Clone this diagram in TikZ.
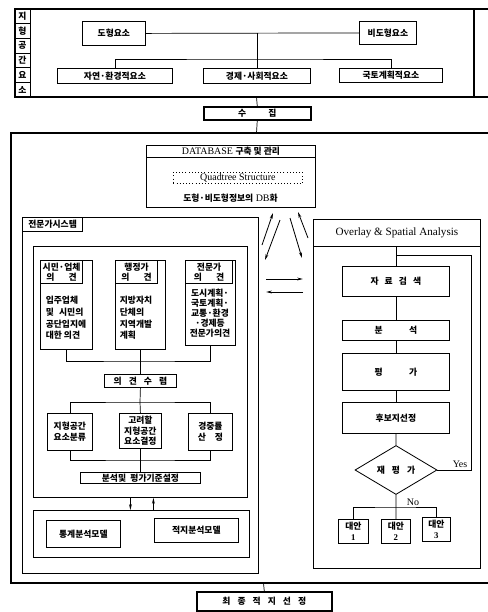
\documentclass[tikz,border=0pt]{standalone}
\usepackage{fontspec}
\setmainfont{Liberation Serif}
\newfontfamily\kr{Noto Sans CJK KR}
\usetikzlibrary{arrows.meta, positioning, shapes.geometric, calc}

\begin{document}
\begin{tikzpicture}[
    x=0.03cm,
    y=-0.03cm,
    caixa/.style={
        draw,
        line width=0.7pt,
        inner sep=1pt,
        align=center,
        anchor=north west,
        font=\kr\bfseries\fontsize{7.5}{9}\selectfont
    },
    caixagrossa/.style={
        caixa,
        line width=1.3pt
    },
    cabecalho/.style={
        caixa,
        line width=1pt
    },
    texto/.style={
        inner sep=0pt,
        align=center,
        font=\kr\bfseries\fontsize{7.5}{10}\selectfont
    },
    latim/.style={
        inner sep=0pt,
        font=\fontsize{8.5}{9}\selectfont
    },
    moldura/.style={line width=1.3pt},
    ligacao/.style={line width=0.6pt},
    seta/.style={line width=0.7pt, -{Stealth[length=5pt, width=2.4pt]}}
]

\useasboundingbox (0,0) rectangle (488,612);

% ---------------- Elementos ----------------

\draw[moldura] (488,9) -- (15,9) -- (15,97) -- (488,97);
\draw[moldura] (474,9) -- (474,97);
\draw[ligacao] (30,9) -- (30,97);

\foreach \letra [count=\i] in {지,형,공,간,요,소}
{
    \node[texto] (coluna\i) at (22.5,{9+14.67*\i-7.33}) {\letra};
}
\foreach \i in {1,...,5}
{
    \draw[line width=0.4pt] (15,{9+14.67*\i}) -- (30,{9+14.67*\i});
}

\node[
    caixa,
    minimum width=1.89cm,
    minimum height=0.72cm
] (dohyeong) at (82,21)
{도형요소};

\node[
    caixa,
    minimum width=1.71cm,
    minimum height=0.69cm
] (bidohyeong) at (359,21)
{비도형요소};

\node[
    caixa,
    minimum width=3.45cm,
    minimum height=0.45cm
] (ziyeon) at (57,68)
{자연·환경적요소};

\node[
    caixa,
    minimum width=3.21cm,
    minimum height=0.45cm
] (gyeongje) at (203,68)
{경제·사회적요소};

\node[
    caixa,
    minimum width=3.09cm,
    minimum height=0.42cm
] (gukto) at (339,68)
{국토계획적요소};

\coordinate (ramo) at (256.5,59);

\draw[ligacao] (dohyeong.east) -- (bidohyeong.west);
\draw[ligacao] (gyeongje.north) -- (gyeongje.north |- dohyeong.east);
\draw[ligacao] (ziyeon.north) |- (ramo) -| (gukto.north);

% ---------------- Coleta ----------------

\node[
    caixagrossa,
    minimum width=3.21cm,
    minimum height=0.39cm
] (sujip) at (203,106)
{수\hspace{2.5em}집};

\coordinate (topo) at (256.5,97);
\coordinate (quadro) at (256.5,133);

\draw[ligacao] (topo) -- (sujip.north);
\draw[ligacao] (sujip.south) -- (quadro);

\draw[moldura] (488,133) -- (11,133) -- (11,583) -- (488,583);

% ---------------- Database ----------------

\node[
    caixa,
    minimum width=5.07cm,
    minimum height=1.86cm
] (db) at (146,145)
{};

\node[
    caixa,
    minimum width=5.07cm,
    minimum height=0.36cm,
    font=\fontsize{8.5}{9}\selectfont
] (dbtitulo) at (146,145)
{DATABASE {\kr\bfseries\fontsize{7.5}{9}\selectfont 구축 및 관리}};

\node[
    caixa,
    dotted,
    minimum width=3.87cm,
    minimum height=0.33cm,
    font=\fontsize{8.5}{9}\selectfont
] (quadtree) at (173,172)
{Quadtree Structure};

\node[latim] (dbtexto) at (230.5,198)
{{\kr\bfseries\fontsize{7.5}{9}\selectfont 도형·비도형정보의} DB{\kr\bfseries\fontsize{7.5}{9}\selectfont 화}};

% ---------------- Setas ----------------

\coordinate (s1a) at (262,245);
\coordinate (s1b) at (273,213);
\coordinate (s2a) at (280,220);
\coordinate (s2b) at (265,260);
\coordinate (s3a) at (290,218);
\coordinate (s3b) at (302,258);
\coordinate (s4a) at (308,238);
\coordinate (s4b) at (298,212);
\coordinate (s5a) at (266,279);
\coordinate (s5b) at (303,279);
\coordinate (s6a) at (303,292);
\coordinate (s6b) at (266,292);

\draw[seta] (s1a) -- (s1b);
\draw[seta] (s2a) -- (s2b);
\draw[seta] (s3a) -- (s3b);
\draw[seta] (s4a) -- (s4b);
\draw[seta] (s5a) -- (s5b);
\draw[seta] (s6a) -- (s6b);

% ---------------- Sistema especialista ----------------

\node[
    caixa,
    line width=1pt,
    minimum width=7.08cm,
    minimum height=10.68cm
] (especialista) at (22,217)
{};

\node[
    cabecalho,
    minimum width=1.8cm,
    minimum height=0.42cm
] (espaba) at (22,217)
{전문가시스템};

\node[
    caixa,
    minimum width=6.42cm,
    minimum height=7.53cm
] (opiniao) at (33,246)
{};

\node[
    caixa,
    minimum width=1.56cm,
    minimum height=2.67cm
] (op1) at (40,260)
{};

\node[
    cabecalho,
    minimum width=1.26cm,
    minimum height=0.69cm
] (op1titulo) at (40,260)
{시민·업체\\의\hspace{1.6em}견};

\node[texto, align=left] (op1texto) at (66,318)
{입주업체\\및\hspace{0.6em}시민의\\공단입지에\\대한 의견};

\node[
    caixa,
    minimum width=1.5cm,
    minimum height=2.67cm
] (op2) at (115,260)
{};

\node[
    cabecalho,
    minimum width=1.26cm,
    minimum height=0.69cm
] (op2titulo) at (115,260)
{행정가\\의\hspace{1.6em}견};

\node[texto, align=left] (op2texto) at (136,318)
{지방자치\\단체의\\지역개발\\계획};

\node[
    caixa,
    minimum width=1.5cm,
    minimum height=2.55cm
] (op3) at (185,260)
{};

\node[
    cabecalho,
    minimum width=1.41cm,
    minimum height=0.69cm
] (op3titulo) at (185,260)
{전문가\\의\hspace{1.6em}견};

\node[texto, font=\kr\bfseries\fontsize{7.5}{8.6}\selectfont] (op3texto) at (210,313)
{도시계획·\\국토계획·\\교통·환경\\·경제등\\전문가의견};

\node[
    caixa,
    minimum width=2.16cm,
    minimum height=0.39cm
] (suryeom) at (104,374)
{의\hspace{0.8em}견\hspace{0.8em}수\hspace{0.8em}렴};

\coordinate (barra1) at (140,361);
\draw[ligacao] (op1.south) |- (barra1) -| (op3.south);
\draw[ligacao] (op2.south) -- (suryeom.north);

\node[
    caixa,
    minimum width=1.35cm,
    minimum height=1.11cm
] (cr1) at (47,413)
{지형공간\\요소분류};

\node[
    caixa,
    minimum width=1.26cm,
    minimum height=1.05cm
] (cr2) at (119,413)
{고려할\\지형공간\\요소결정};

\node[
    caixa,
    minimum width=1.32cm,
    minimum height=1.11cm
] (cr3) at (188,413)
{경중률\\산\hspace{1em}정};

\coordinate (barra2) at (140,402);
\draw[ligacao] (suryeom.south) -- (barra2);
\draw[ligacao] (cr1.north) |- (barra2) -| (cr3.north);
\draw[ligacao] (barra2) -- (cr2.north);

\node[
    caixa,
    minimum width=3.6cm,
    minimum height=0.33cm
] (criterio) at (80,472)
{분석및\hspace{0.5em}평가기준설정};

\coordinate (barra3) at (140,460);
\draw[ligacao] (cr1.south) |- (barra3) -| (cr3.south);
\draw[ligacao] (cr2.south) -- (criterio.north);

\node[
    caixa,
    minimum width=6.48cm,
    minimum height=1.41cm
] (modelos) at (33,510)
{};

\node[
    caixa,
    minimum width=2.22cm,
    minimum height=0.81cm
] (estat) at (46,520)
{통계분석모델};

\node[
    caixa,
    minimum width=2.52cm,
    minimum height=0.72cm
] (local) at (154,518)
{적지분석모델};

\draw[seta] ([xshift=-0.3cm]opiniao.south) -- ([xshift=-0.3cm]opiniao.south |- modelos.north);
\draw[seta] ([xshift=0.39cm]opiniao.south |- modelos.north) -- ([xshift=0.39cm]opiniao.south);

% ---------------- Overlay ----------------

\node[
    caixa,
    minimum width=5.01cm,
    minimum height=10.47cm
] (overlay) at (313,219)
{};

\node[
    caixa,
    minimum width=5.01cm,
    minimum height=0.81cm,
    font=\fontsize{9.5}{10}\selectfont
] (ovtitulo) at (313,219)
{Overlay \& Spatial Analysis};

\node[
    caixa,
    minimum width=3.21cm,
    minimum height=0.9cm
] (busca) at (342,266)
{자\hspace{0.7em}료\hspace{0.7em}검\hspace{0.7em}색};

\node[
    caixa,
    minimum width=3.21cm,
    minimum height=0.6cm
] (analise) at (342,320)
{분\hspace{3em}석};

\node[
    caixa,
    minimum width=3.21cm,
    minimum height=1.11cm
] (avaliacao) at (342,353)
{평\hspace{3em}가};

\node[
    caixa,
    minimum width=3.21cm,
    minimum height=0.93cm
] (candidato) at (342,402)
{후보지선정};

\node[
    caixa,
    diamond,
    anchor=center,
    inner sep=0pt,
    minimum width=2.46cm,
    minimum height=1.47cm
] (reaval) at (396,470)
{재\hspace{0.8em}평\hspace{0.8em}가};

\node[
    caixa,
    minimum width=0.9cm,
    minimum height=0.72cm
] (alt1) at (338,519)
{대안\\{\rmfamily 1}};

\node[
    caixa,
    minimum width=0.87cm,
    minimum height=0.72cm
] (alt2) at (381,519)
{대안\\{\rmfamily 2}};

\node[
    caixa,
    minimum width=0.84cm,
    minimum height=0.72cm
] (alt3) at (422,517)
{대안\\{\rmfamily 3}};

\draw[ligacao] (ovtitulo.south -| busca.north) -- (busca.north);
\draw[ligacao] (busca.south) -- (analise.north);
\draw[ligacao] (analise.south) -- (avaliacao.north);
\draw[ligacao] (avaliacao.south) -- (candidato.north);
\draw[ligacao] (candidato.south) -- (reaval.north);

\coordinate (laco) at (471,255);
\draw[ligacao] (reaval.east) -| (laco) -- (laco -| busca.north);

\coordinate (barra4) at (396,507);
\draw[ligacao] (reaval.south) -- (alt2.north);
\draw[ligacao] (alt1.north) |- (barra4) -| (alt3.north);

\node[latim] (sim) at (460,464) {Yes};
\node[latim] (nao) at (413,502) {No};

% ---------------- Final ----------------

\node[
    caixagrossa,
    minimum width=4.05cm,
    minimum height=0.57cm
] (final) at (196,591)
{최\hspace{0.8em}종\hspace{0.8em}적\hspace{0.8em}지\hspace{0.8em}선\hspace{0.8em}정};

\coordinate (fundo) at (263.5,583);
\draw[ligacao] (fundo) -- (final.north);

\end{tikzpicture}
\end{document}
